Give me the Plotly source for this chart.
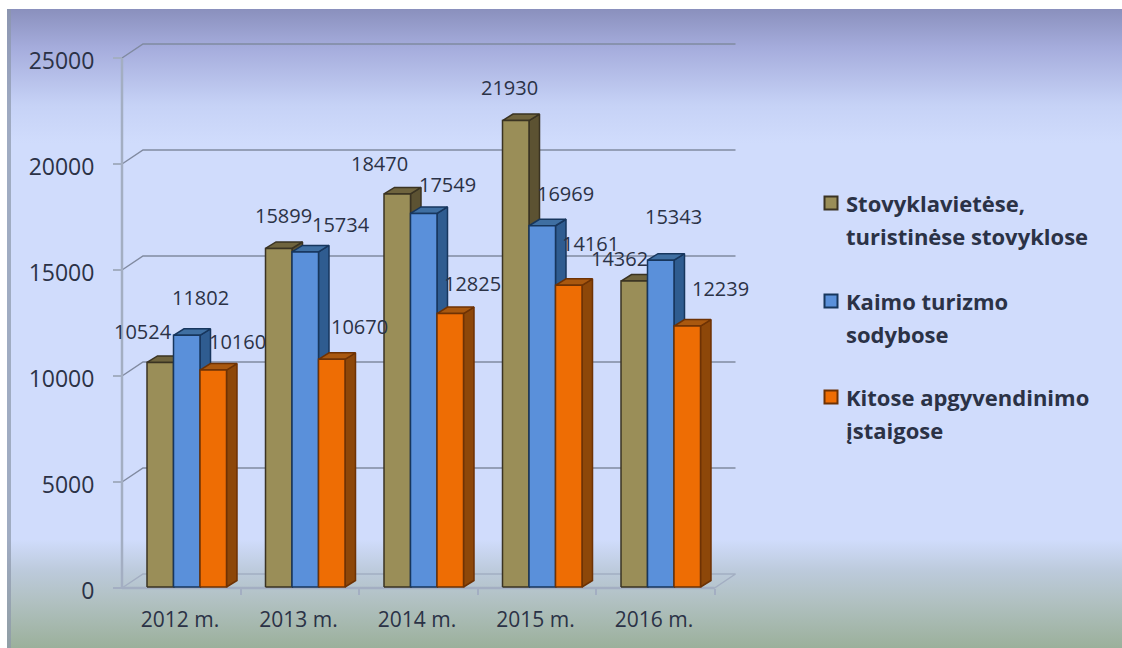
"""
Guests by type of accommodation, drawn as an extruded column chart
"""
from urllib.parse import quote

import plotly.graph_objects as go

# Data
years = ['2012 m.', '2013 m.', '2014 m.', '2015 m.', '2016 m.']
camping = [10524, 15899, 18470, 21930, 14362]
rural = [11802, 15734, 17549, 16969, 15343]
other = [10160, 10670, 12825, 14161, 12239]
y_ticks = [0, 5000, 10000, 15000, 20000, 25000]
names = [['Stovyklavietėse,', 'turistinėse stovyklose'],
         ['Kaimo turizmo', 'sodybose'],
         ['Kitose apgyvendinimo', 'įstaigose']]

# Hand placed value labels, pixels away from the top centre of each column
camping_shift = [(-17, 33), (5, 35), (-18, 33), (-6, 36), (-15, 25)]
rural_shift = [(14, 40), (36, 30), (24, 31), (23, 35), (13, 46)]
other_shift = [(24, 31), (28, 35), (22, 33), (22, 44), (33, 40)]

# Figure geometry
W, H = 1122, 648
PX_X = 118.5    # pixels per category
PX_Y = 0.0212   # pixels per unit
X0, Y0 = 122, 588
BAR_W = 26.5 / PX_X
BAR_START = 25 / PX_X
BAR_BASE, BAR_LIFT = 1 / PX_Y, 2.5 / PX_Y   # columns stand a little way back from the front edge
DEPTH_X, DEPTH_Y = 10.5 / PX_X, 6.5 / PX_Y
WALL_X, WALL_Y = 21 / PX_X, 14 / PX_Y
N = len(years)

# Legend block, pixels from the top left of the page
LEGEND_SWATCH_X = 831
LEGEND_TEXT_X = 844
LEGEND_ROWS = [(203, 236), (301, 334), (397, 430)]

# (front, side, top, outline)
styles = [('#9a8e58', '#5c5232', '#6f643e', '#3a3322'),
          ('#5a90da', '#2f5c90', '#3f6fa2', '#17365d'),
          ('#ee6d04', '#8d4709', '#a9580f', '#6e3204')]
GRID = '#808aa0'
AXIS = '#a3aec2'
TEXT = '#2b3246'

background = ('<svg xmlns="http://www.w3.org/2000/svg" width="1122" height="648">'
              '<defs><linearGradient id="g" x1="0" y1="0" x2="0" y2="1">'
              '<stop offset="0" stop-color="#8a90bd"/>'
              '<stop offset="0.06" stop-color="#a5acdc"/>'
              '<stop offset="0.15" stop-color="#c6d2f6"/>'
              '<stop offset="0.21" stop-color="#d0dcfc"/>'
              '<stop offset="0.83" stop-color="#d0dcfc"/>'
              '<stop offset="0.88" stop-color="#bccadb"/>'
              '<stop offset="0.93" stop-color="#b0c0c0"/>'
              '<stop offset="1" stop-color="#9bb09b"/>'
              '</linearGradient></defs>'
              '<rect x="7" y="9" width="1115" height="639" fill="url(#g)"/>'
              '<rect x="7" y="9" width="4" height="639" fill="#8c97aa" opacity="0.7"/>'
              '</svg>')


def add_face(fig, xs, ys, fill, outline):
    fig.add_trace(go.Scatter(x=xs, y=ys, mode='lines', fill='toself', fillcolor=fill,
                             line=dict(color=outline, width=1.5), showlegend=False,
                             hoverinfo='skip'))


def add_line(fig, xs, ys, color, width):
    fig.add_trace(go.Scatter(x=xs, y=ys, mode='lines', line=dict(color=color, width=width),
                             showlegend=False, hoverinfo='skip'))


fig = go.Figure()

# Walls and floor
for v in y_ticks[1:]:
    add_line(fig, [0, WALL_X, N + WALL_X], [v, v + WALL_Y, v + WALL_Y], GRID, 1.5)
add_line(fig, [0, WALL_X, N + WALL_X, N, 0], [0, WALL_Y, WALL_Y, 0, 0], AXIS, 1.5)
add_line(fig, [0, 0], [0, y_ticks[-1]], AXIS, 2.5)
add_line(fig, [0, N], [0, 0], AXIS, 2.5)

# Columns, each one painted over its left neighbour
series = [camping, rural, other]
for i in range(N):
    for s, values in enumerate(series):
        v = values[i] + BAR_LIFT
        left = i + BAR_START + s * BAR_W
        right = left + BAR_W
        front, side, top, outline = styles[s]
        add_face(fig, [right, right + DEPTH_X, right + DEPTH_X, right, right],
                 [BAR_BASE, BAR_BASE + DEPTH_Y, v + DEPTH_Y, v, BAR_BASE], side, outline)
        add_face(fig, [left, left + DEPTH_X, right + DEPTH_X, right, left],
                 [v, v + DEPTH_Y, v + DEPTH_Y, v, v], top, outline)
        add_face(fig, [left, left, right, right, left],
                 [BAR_BASE, v, v, BAR_BASE, BAR_BASE], front, outline)

# Value labels
for s, (values, shifts) in enumerate(zip(series, [camping_shift, rural_shift, other_shift])):
    for i, (v, shift) in enumerate(zip(values, shifts)):
        fig.add_annotation(x=i + BAR_START + (s + 0.5) * BAR_W, y=v, text=str(v),
                           xshift=shift[0], yshift=shift[1], showarrow=False,
                           font=dict(family='Open Sans', size=20, color=TEXT))

# Legend, built by hand because the swatch sits on the first text line
for label, rows, style in zip(names, LEGEND_ROWS, styles):
    fig.add_trace(go.Scatter(x=[(LEGEND_SWATCH_X - X0) / PX_X], y=[(Y0 - rows[0]) / PX_Y],
                             mode='markers', showlegend=False, hoverinfo='skip',
                             marker=dict(symbol='square', size=13, color=style[0],
                                         line=dict(color=style[3], width=2))))
    for part, row in zip(label, rows):
        fig.add_annotation(xref='paper', yref='paper', x=LEGEND_TEXT_X / W, y=1 - row / H,
                           text=f'<b>{part}</b>', xanchor='left', yanchor='middle',
                           showarrow=False,
                           font=dict(family='Open Sans', size=22, color=TEXT))

fig.update_layout(
    width=W, height=H,
    margin=dict(l=0, r=0, t=0, b=0, autoexpand=False),
    paper_bgcolor='white', plot_bgcolor='rgba(0,0,0,0)',
    showlegend=False,
    images=[dict(source='data:image/svg+xml,' + quote(background), xref='paper', yref='paper',
                 x=0, y=1, sizex=1, sizey=1, sizing='stretch', layer='below')],
    xaxis=dict(range=[-X0 / PX_X, (W - X0) / PX_X], anchor='free', position=(H - Y0) / H,
               tickmode='array', tickvals=[i + 0.49 for i in range(N)], ticktext=years,
               ticks='', showgrid=False, zeroline=False, showline=False, ticklabelstandoff=17,
               tickfont=dict(family='Open Sans', size=21, color=TEXT),
               minor=dict(tickmode='array', tickvals=list(range(1, N + 1)), ticks='outside',
                          ticklen=6, tickcolor=AXIS, tickwidth=2, showgrid=False)),
    yaxis=dict(range=[-(H - Y0) / PX_Y, Y0 / PX_Y], anchor='free', position=X0 / W,
               tickmode='array', tickvals=y_ticks, tickformat='d', ticks='outside', ticklen=9,
               tickwidth=2, tickcolor=AXIS, showgrid=False, zeroline=False, showline=False,
               ticklabelstandoff=14, ticklabelshift=3,
               tickfont=dict(family='Open Sans', size=23, color=TEXT)),
)

# Page margin off, so the figure fills the window
fig.write_html("out.html", config={'displayModeBar': False},
               post_script="document.body.style.margin = '0';")
